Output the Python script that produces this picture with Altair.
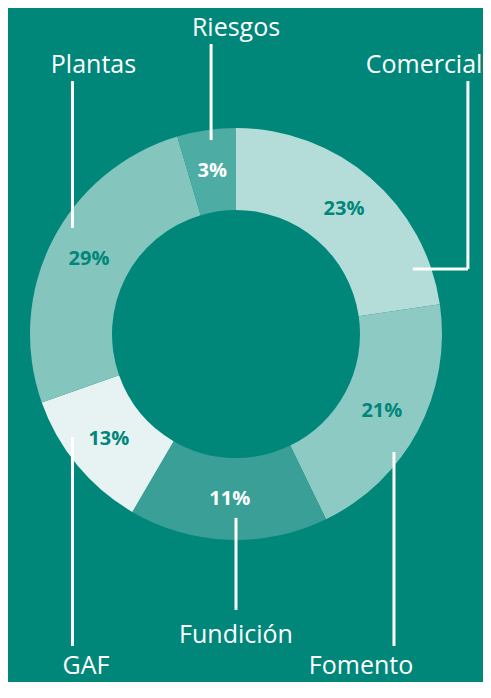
import altair as alt
import pandas as pd

# ---- slice data (as drawn in the reference) ----
categories = ["Comercial", "Fomento", "Fundición", "GAF", "Plantas", "Riesgos"]
shares = [22.7, 20.1, 15.6, 11.2, 25.8, 4.6]
pct_labels = ["23%", "21%", "11%", "13%", "29%", "3%"]
slice_colors = ["#B4DDD9", "#8DCAC4", "#3A9F96", "#E6F3F2", "#84C5BE", "#4DACA3"]
pct_colors = ["#00877A", "#00877A", "#FFFFFF", "#00877A", "#00877A", "#FFFFFF"]

# ---- callout names (units of outer radius, origin at donut centre) ----
name_text = ["Comercial", "Fomento", "Fundición", "GAF", "Plantas", "Riesgos"]
name_x = [0.913, 0.607, 0.0, -0.728, -0.692, 0.0]
name_y = [1.267, -1.650, -1.50, -1.650, 1.267, 1.447]

# ---- leader line segments (same units) ----
seg_x = [-0.121, -0.794, 1.126, 1.126, 0.0, 0.767, -0.794]
seg_y = [1.408, 1.228, 1.228, 0.316, -0.893, -0.573, -0.500]
seg_x2 = [-0.121, -0.794, 1.126, 0.859, 0.0, 0.767, -0.794]
seg_y2 = [0.942, 0.515, 0.316, 0.316, -1.340, -1.515, -1.515]

BG = "#00877A"

slices = pd.DataFrame({
    "category": categories,
    "share": shares,
    "label": pct_labels,
    "pcolor": pct_colors,
    "idx": list(range(len(categories))),
})
names = pd.DataFrame({"name": name_text, "x": name_x, "y": name_y})
segs = pd.DataFrame({"x": seg_x, "y": seg_y, "x2": seg_x2, "y2": seg_y2})

xs = alt.Scale(domain=[-1.107, 1.107], nice=False, zero=False)
ys = alt.Scale(domain=[-1.583, 1.583], nice=False, zero=False)

arcs = alt.Chart(slices).mark_arc(outerRadius=206, innerRadius=124).encode(
    theta=alt.Theta("share:Q", stack=True),
    color=alt.Color("category:N", scale=alt.Scale(domain=categories, range=slice_colors), legend=None),
    order=alt.Order("idx:Q"),
)

pcts = alt.Chart(slices).mark_text(
    radius=165, font="Open Sans", fontWeight="bold", fontSize=20, baseline="middle", align="center"
).encode(
    theta=alt.Theta("share:Q", stack=True),
    text="label:N",
    color=alt.Color("pcolor:N", scale=None),
    order=alt.Order("idx:Q"),
)

rules = alt.Chart(segs).mark_rule(color="white", strokeWidth=3, strokeCap="butt").encode(
    x=alt.X("x:Q", scale=xs, axis=None),
    y=alt.Y("y:Q", scale=ys, axis=None),
    x2="x2:Q",
    y2="y2:Q",
)

labels = alt.Chart(names).mark_text(
    font="Open Sans", fontSize=25, color="white", align="center", baseline="alphabetic"
).encode(
    x=alt.X("x:Q", scale=xs, axis=None),
    y=alt.Y("y:Q", scale=ys, axis=None),
    text="name:N",
)

chart = alt.layer(arcs, pcts, rules, labels).properties(
    width=456,
    height=652,
    padding={"left": 0, "top": 0, "right": 19, "bottom": 22},
    autosize="none",
    background=BG,
).configure_view(stroke=None)

chart.save("out.html", embed_options={"renderer": "svg", "actions": False})
